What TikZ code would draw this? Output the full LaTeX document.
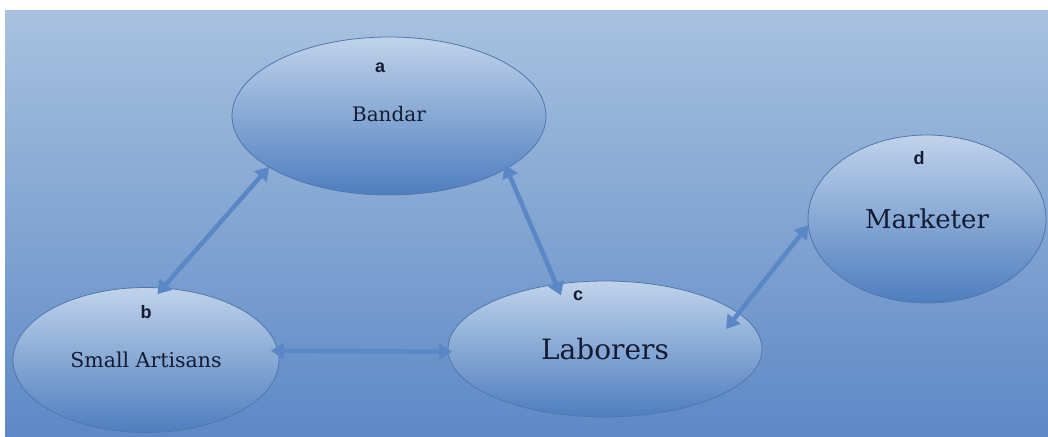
\documentclass[tikz,border=0pt]{standalone}
\usepackage{fontspec}
\setmainfont{DejaVu Serif}
\newfontfamily\lblfont{Liberation Sans}
\usetikzlibrary{shapes.geometric,arrows.meta}
\definecolor{bgtop}{HTML}{A8C1DF}
\definecolor{bgbot}{HTML}{5D89C6}
\definecolor{eltop}{HTML}{C0D3EA}
\definecolor{elbot}{HTML}{4E7EBF}
\definecolor{elline}{HTML}{5277AC}
\definecolor{arrcol}{HTML}{5A88C6}
\definecolor{txt}{HTML}{141C33}
\tikzset{
  bubble/.style={ellipse, draw=elline, line width=0.8pt, top color=eltop, bottom color=elbot, inner sep=0pt, outer sep=0pt, text=txt},
  letter/.style={font=\lblfont\bfseries\fontsize{18}{18}\selectfont, text=txt, inner sep=0pt},
  arr/.style={line width=4.5pt, draw=arrcol, {Triangle[width=16pt,length=13pt]}-{Triangle[width=16pt,length=13pt]}}
}
\begin{document}
\begin{tikzpicture}[x=1pt,y=-1pt]
\useasboundingbox (0,0) rectangle (1048,436);
\fill[white] (0,0) rectangle (1048,436);
\shade[top color=bgtop, bottom color=bgbot] (5,11) rectangle (1048,436);
\node[bubble, minimum width=314pt, minimum height=158pt, font=\fontsize{20}{20}\selectfont] (a) at (389,116) {\raisebox{5pt}{Bandar}};
\node[bubble, minimum width=266pt, minimum height=145pt, font=\fontsize{20.5}{20}\selectfont] (b) at (146,360) {Small Artisans};
\node[bubble, minimum width=314pt, minimum height=136pt, font=\fontsize{28}{28}\selectfont] (c) at (605,349) {Laborers};
\node[bubble, minimum width=238pt, minimum height=168pt, font=\fontsize{26}{26}\selectfont] (d) at (927,219) {Marketer};
\node[letter] (la) at (380,68) {a};
\node[letter] (lb) at (146,312) {b};
\node[letter] (lc) at (578,296) {c};
\node[letter] (ld) at (919,158) {d};
\draw[arr, shorten >=-8pt] (a.203) -- (b.77);
\draw[arr, shorten <=-4pt, shorten >=-12pt] (a.336) -- (c.127);
\draw[arr, shorten <=-7pt, shorten >=-4pt] (b.4) -- (c.181);
\draw[arr, shorten <=-20pt] (c.15) -- (d.183);
\end{tikzpicture}
\end{document}
